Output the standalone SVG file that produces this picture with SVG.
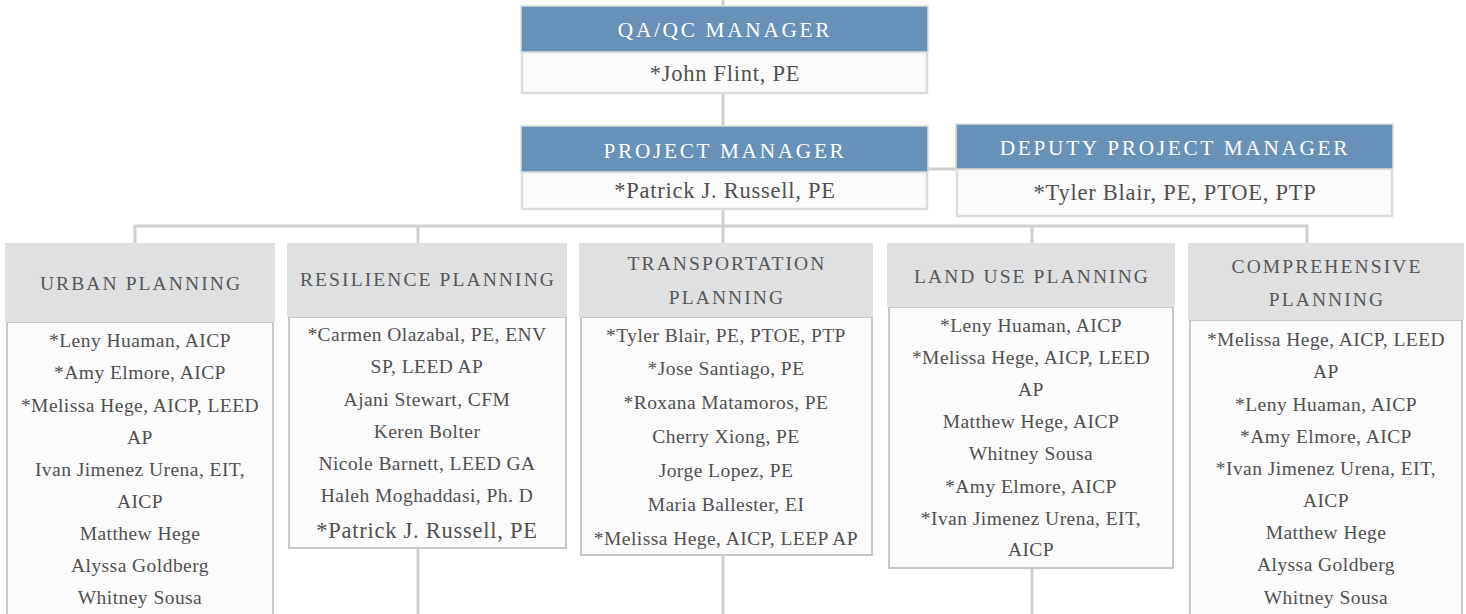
<svg xmlns="http://www.w3.org/2000/svg" width="1466" height="614" viewBox="0 0 1466 614" font-family="'Liberation Serif', serif">
<style>
.bg{fill:#ffffff}
.bh{fill:#6891ba;stroke:#dcdcdc;stroke-width:1.5}
.bb{fill:#fbfbfb;stroke:#dcdcdc;stroke-width:2.5}
.gh{fill:#dfe0e2}
.gb{fill:#fbfbfb;stroke:#c8c8c8;stroke-width:2}
.ln{stroke:#cfcfcf;stroke-width:3;fill:none}
text{font-family:'Liberation Serif', serif;text-anchor:middle}
.bt{fill:#ffffff;font-size:21.3px;letter-spacing:2.7px}
.bn{fill:#505050;font-size:22.5px;letter-spacing:0.75px}
.gt{fill:#575757;font-size:19.5px;letter-spacing:2.1px}
.nm{fill:#505050;font-size:19.5px;letter-spacing:0.45px}
</style>
<rect class="bg" x="0" y="0" width="1466" height="614"/>
<g id="connectors">
<line class="ln" x1="723" y1="0" x2="723" y2="7"/>
<line class="ln" x1="723" y1="94" x2="723" y2="126"/>
<line class="ln" x1="928" y1="169" x2="957" y2="169"/>
<line class="ln" x1="723" y1="210" x2="723" y2="226"/>
<polyline class="ln" points="135,243 135,226 1307,226 1307,243"/>
<line class="ln" x1="418" y1="226" x2="418" y2="243"/>
<line class="ln" x1="723" y1="226" x2="723" y2="243"/>
<line class="ln" x1="1032" y1="226" x2="1032" y2="243"/>
<line class="ln" x1="418" y1="548" x2="418" y2="614"/>
<line class="ln" x1="723" y1="555" x2="723" y2="614"/>
<line class="ln" x1="1032" y1="568" x2="1032" y2="614"/>
</g>
<g id="qaqc">
<rect class="bb" x="522" y="52" width="405" height="41"/>
<rect class="bh" x="521" y="6" width="407" height="46"/>
<text class="bt" x="725" y="37">QA/QC MANAGER</text>
<text class="bn" x="725" y="81">*John Flint, PE</text>
</g>
<g id="pm">
<rect class="bb" x="522" y="172" width="405" height="37"/>
<rect class="bh" x="521" y="126" width="407" height="46"/>
<text class="bt" x="725" y="158">PROJECT MANAGER</text>
<text class="bn" x="725" y="198">*Patrick J. Russell, PE</text>
</g>
<g id="dpm">
<rect class="bb" x="957" y="169" width="435" height="47"/>
<rect class="bh" x="956" y="124" width="437" height="45"/>
<text class="bt" x="1175" y="155">DEPUTY PROJECT MANAGER</text>
<text class="bn" x="1175" y="200">*Tyler Blair, PE, PTOE, PTP</text>
</g>
<g id="urban">
<rect class="gb" x="7" y="322" width="266" height="300"/>
<rect class="gh" x="5" y="243" width="270" height="79"/>
<text class="gt" x="141" y="290">URBAN PLANNING</text>
<text class="nm" x="140" y="347">*Leny Huaman, AICP</text>
<text class="nm" x="140" y="379">*Amy Elmore, AICP</text>
<text class="nm" x="140" y="412">*Melissa Hege, AICP, LEED</text>
<text class="nm" x="140" y="444">AP</text>
<text class="nm" x="140" y="476">Ivan Jimenez Urena, EIT,</text>
<text class="nm" x="140" y="508">AICP</text>
<text class="nm" x="140" y="540">Matthew Hege</text>
<text class="nm" x="140" y="572">Alyssa Goldberg</text>
<text class="nm" x="140" y="604">Whitney Sousa</text>
</g>
<g id="resilience">
<rect class="gb" x="289" y="317" width="277" height="231"/>
<rect class="gh" x="287" y="243" width="280" height="74"/>
<text class="gt" x="428" y="286">RESILIENCE PLANNING</text>
<text class="nm" x="427" y="341">*Carmen Olazabal, PE, ENV</text>
<text class="nm" x="427" y="373">SP, LEED AP</text>
<text class="nm" x="427" y="406">Ajani Stewart, CFM</text>
<text class="nm" x="427" y="438">Keren Bolter</text>
<text class="nm" x="427" y="470">Nicole Barnett, LEED GA</text>
<text class="nm" x="427" y="502">Haleh Moghaddasi, Ph. D</text>
<text class="bn" x="427" y="538">*Patrick J. Russell, PE</text>
</g>
<g id="transportation">
<rect class="gb" x="581" y="317" width="291" height="238"/>
<rect class="gh" x="579" y="243" width="294" height="74"/>
<text class="gt" x="727" y="270">TRANSPORTATION</text>
<text class="gt" x="727" y="304">PLANNING</text>
<text class="nm" x="726" y="342">*Tyler Blair, PE, PTOE, PTP</text>
<text class="nm" x="726" y="375">*Jose Santiago, PE</text>
<text class="nm" x="726" y="409">*Roxana Matamoros, PE</text>
<text class="nm" x="726" y="443">Cherry Xiong, PE</text>
<text class="nm" x="726" y="477">Jorge Lopez, PE</text>
<text class="nm" x="726" y="511">Maria Ballester, EI</text>
<text class="nm" x="726" y="545">*Melissa Hege, AICP, LEEP AP</text>
</g>
<g id="landuse">
<rect class="gb" x="889" y="307" width="284" height="261"/>
<rect class="gh" x="887" y="243" width="288" height="64"/>
<text class="gt" x="1032" y="283">LAND USE PLANNING</text>
<text class="nm" x="1031" y="332">*Leny Huaman, AICP</text>
<text class="nm" x="1031" y="364">*Melissa Hege, AICP, LEED</text>
<text class="nm" x="1031" y="396">AP</text>
<text class="nm" x="1031" y="428">Matthew Hege, AICP</text>
<text class="nm" x="1031" y="460">Whitney Sousa</text>
<text class="nm" x="1031" y="493">*Amy Elmore, AICP</text>
<text class="nm" x="1031" y="525">*Ivan Jimenez Urena, EIT,</text>
<text class="nm" x="1031" y="556">AICP</text>
</g>
<g id="comprehensive">
<rect class="gb" x="1190" y="320" width="272" height="300"/>
<rect class="gh" x="1188" y="243" width="276" height="77"/>
<text class="gt" x="1327" y="273">COMPREHENSIVE</text>
<text class="gt" x="1327" y="306">PLANNING</text>
<text class="nm" x="1326" y="346">*Melissa Hege, AICP, LEED</text>
<text class="nm" x="1326" y="378">AP</text>
<text class="nm" x="1326" y="411">*Leny Huaman, AICP</text>
<text class="nm" x="1326" y="443">*Amy Elmore, AICP</text>
<text class="nm" x="1326" y="475">*Ivan Jimenez Urena, EIT,</text>
<text class="nm" x="1326" y="507">AICP</text>
<text class="nm" x="1326" y="539">Matthew Hege</text>
<text class="nm" x="1326" y="571">Alyssa Goldberg</text>
<text class="nm" x="1326" y="604">Whitney Sousa</text>
</g>
</svg>
